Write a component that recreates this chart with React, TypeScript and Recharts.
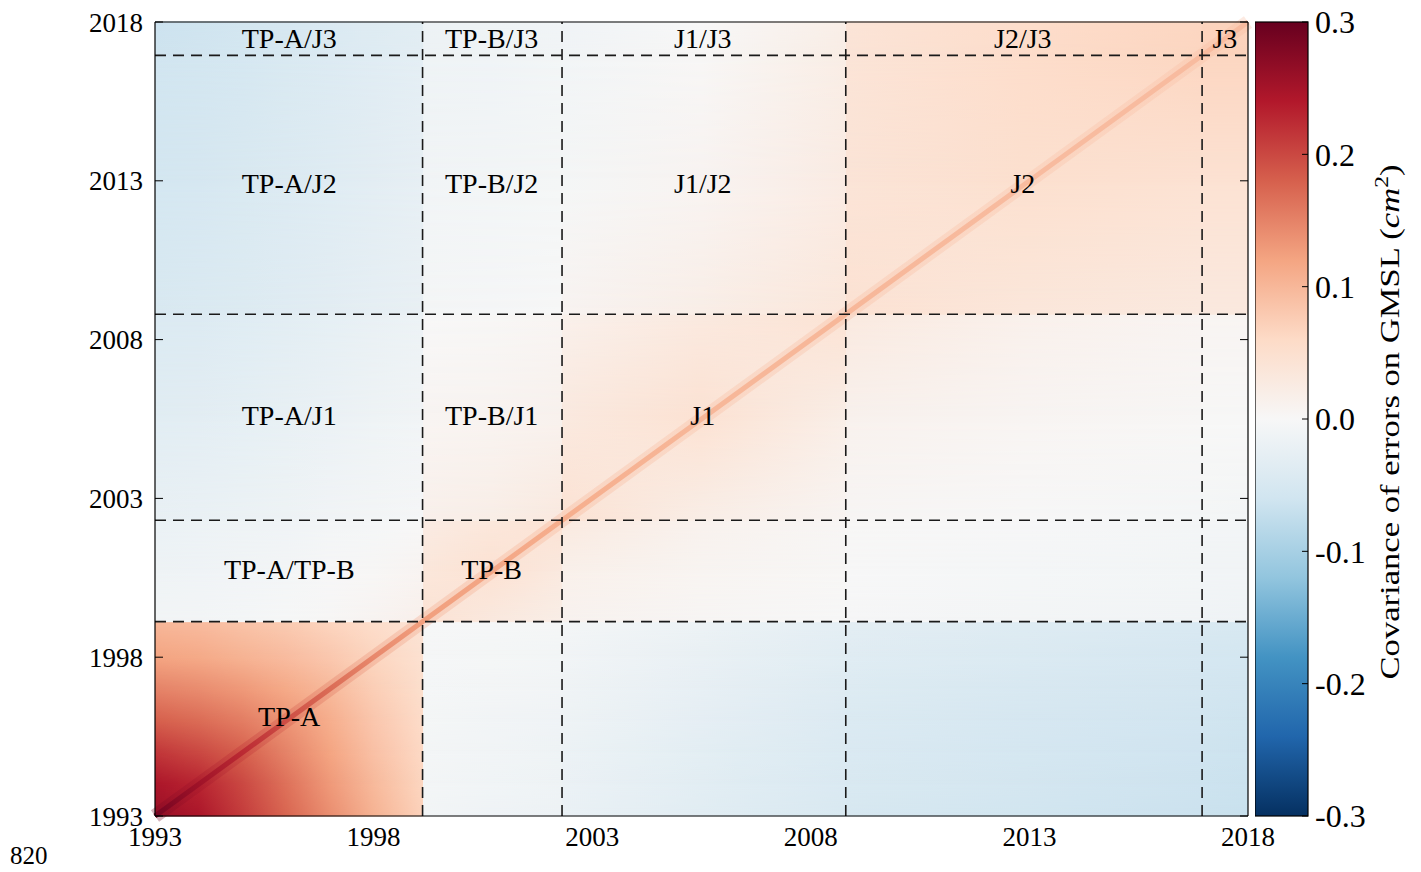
import React from 'react';
import { ScatterChart, Scatter, XAxis, YAxis, ReferenceArea, ReferenceLine } from 'recharts';

// node years of the covariance grid (mission boundaries appear twice so the blocks keep their sharp edges)
const years = [
  1993, 1994, 1995, 1996, 1997, 1998, 1999.12,
  1999.12, 2000.7, 2002.31,
  2002.31, 2005.5, 2008.8,
  2008.8, 2012.9, 2016.95,
  2016.95, 2018,
];

// cov[row][col]: row = year on the vertical axis, col = year on the horizontal axis (cm^2)
const cov = [
  [0.26, 0.245, 0.21, 0.175, 0.14, 0.105, 0.07, -0.008, -0.012, -0.016, -0.02, -0.035, -0.048, -0.05, -0.058, -0.065, -0.066, -0.068],
  [0.245, 0.23, 0.2, 0.165, 0.13, 0.098, 0.066, -0.007, -0.011, -0.015, -0.019, -0.033, -0.046, -0.048, -0.056, -0.063, -0.064, -0.066],
  [0.215, 0.2, 0.18, 0.15, 0.12, 0.09, 0.062, -0.006, -0.01, -0.014, -0.017, -0.031, -0.044, -0.046, -0.054, -0.061, -0.062, -0.064],
  [0.18, 0.17, 0.155, 0.135, 0.11, 0.083, 0.057, -0.005, -0.009, -0.012, -0.015, -0.029, -0.042, -0.044, -0.052, -0.059, -0.06, -0.062],
  [0.15, 0.142, 0.13, 0.115, 0.098, 0.075, 0.052, -0.004, -0.007, -0.01, -0.013, -0.026, -0.039, -0.041, -0.049, -0.056, -0.057, -0.059],
  [0.12, 0.115, 0.105, 0.095, 0.082, 0.066, 0.047, -0.003, -0.005, -0.008, -0.01, -0.022, -0.035, -0.037, -0.045, -0.052, -0.053, -0.055],
  [0.1, 0.095, 0.087, 0.078, 0.067, 0.055, 0.042, -0.001, -0.003, -0.005, -0.007, -0.018, -0.03, -0.032, -0.04, -0.047, -0.048, -0.05],
  [-0.008, -0.006, -0.004, -0.001, 0.003, 0.008, 0.015, 0.045, 0.03, 0.02, 0.01, 0.004, 0.0, -0.002, -0.006, -0.01, -0.011, -0.012],
  [-0.014, -0.012, -0.009, -0.006, -0.002, 0.002, 0.008, 0.035, 0.045, 0.03, 0.016, 0.007, 0.002, 0.0, -0.004, -0.008, -0.009, -0.01],
  [-0.02, -0.018, -0.015, -0.012, -0.008, -0.004, 0.0, 0.025, 0.035, 0.045, 0.03, 0.012, 0.004, 0.002, -0.002, -0.006, -0.007, -0.008],
  [-0.022, -0.02, -0.017, -0.014, -0.01, -0.006, -0.003, 0.015, 0.02, 0.03, 0.045, 0.02, 0.006, 0.004, 0.0, -0.004, -0.005, -0.006],
  [-0.035, -0.032, -0.028, -0.024, -0.019, -0.014, -0.01, 0.006, 0.009, 0.013, 0.03, 0.045, 0.02, 0.012, 0.006, 0.002, 0.001, 0.0],
  [-0.045, -0.042, -0.038, -0.033, -0.028, -0.022, -0.017, 0.0, 0.003, 0.006, 0.015, 0.03, 0.045, 0.03, 0.015, 0.008, 0.007, 0.006],
  [-0.048, -0.045, -0.041, -0.037, -0.032, -0.027, -0.022, -0.005, -0.003, 0.0, 0.008, 0.02, 0.035, 0.045, 0.035, 0.03, 0.03, 0.03],
  [-0.055, -0.052, -0.048, -0.043, -0.038, -0.032, -0.026, -0.01, -0.008, -0.005, -0.005, 0.008, 0.025, 0.04, 0.05, 0.045, 0.045, 0.045],
  [-0.06, -0.057, -0.053, -0.048, -0.042, -0.036, -0.03, -0.015, -0.012, -0.008, -0.01, 0.002, 0.022, 0.04, 0.055, 0.065, 0.065, 0.065],
  [-0.062, -0.059, -0.055, -0.05, -0.044, -0.038, -0.032, -0.016, -0.013, -0.009, -0.01, 0.002, 0.022, 0.04, 0.055, 0.065, 0.07, 0.068],
  [-0.065, -0.062, -0.057, -0.052, -0.046, -0.04, -0.034, -0.018, -0.015, -0.011, -0.012, 0.0, 0.02, 0.04, 0.055, 0.065, 0.068, 0.07],
];

// variance along the diagonal
const diagYears = [1993, 1994, 1995, 1996, 1997, 1998, 1999.12, 2002.31, 2005.5, 2008.8, 2012.9, 2016.95, 2018];
const diagCov = [0.29, 0.255, 0.225, 0.195, 0.17, 0.145, 0.125, 0.11, 0.1, 0.1, 0.095, 0.095, 0.095];

const missionBreaks = [1999.12, 2002.31, 2008.8, 2016.95];
const yearTicks = [1993, 1998, 2003, 2008, 2013, 2018];

const blockNames = [
  'TP-A/J3', 'TP-B/J3', 'J1/J3', 'J2/J3', 'J3',
  'TP-A/J2', 'TP-B/J2', 'J1/J2', 'J2',
  'TP-A/J1', 'TP-B/J1', 'J1',
  'TP-A/TP-B', 'TP-B',
  'TP-A',
];
const blockX = [
  1996.07, 2000.7, 2005.53, 2012.85, 2017.47,
  1996.07, 2000.7, 2005.53, 2012.85,
  1996.07, 2000.7, 2005.53,
  1996.07, 2000.7,
  1996.07,
];
const blockY = [
  2017.47, 2017.47, 2017.47, 2017.47, 2017.47,
  2012.9, 2012.9, 2012.9, 2012.9,
  2005.6, 2005.6, 2005.6,
  2000.75, 2000.75,
  1996.12,
];

const cbarTicks = [-0.3, -0.2, -0.1, 0, 0.1, 0.2, 0.3];
// RdBu_r, from -0.3 to 0.3
const rdbu = ['#053061', '#2166ac', '#4393c3', '#92c5de', '#d1e5f0', '#f7f7f7', '#fddbc7', '#f4a582', '#d6604d', '#b2182b', '#67001f'];

const FONT = "'Liberation Serif', 'Times New Roman', serif";

const hexRgb = (h: string) => [1, 3, 5].map((i) => parseInt(h.slice(i, i + 2), 16));

const cmap = (v: number) => {
  const t = (Math.min(0.3, Math.max(-0.3, v)) + 0.3) / 0.6 * (rdbu.length - 1);
  const i = Math.min(rdbu.length - 2, Math.floor(t));
  const f = t - i;
  const a = hexRgb(rdbu[i]);
  const b = hexRgb(rdbu[i + 1]);
  const c = a.map((ch, k) => Math.round(ch + (b[k] - ch) * f));
  return `rgb(${c[0]},${c[1]},${c[2]})`;
};

const rowStops = (row: number) =>
  years.map((yr, j) => <stop key={j} offset={(yr - 1993) / 25} stopColor={cmap(cov[row][j])} />);

// one horizontal strip of the matrix, blended from the lower row to the upper row
const HeatStrip = (props: any) => {
  const { x, y, width, height, lower } = props;
  const id = `strip${lower}`;
  return (
    <g>
      <defs>
        <linearGradient id={`${id}a`} x1="0" y1="0" x2="1" y2="0">{rowStops(lower)}</linearGradient>
        <linearGradient id={`${id}b`} x1="0" y1="0" x2="1" y2="0">{rowStops(lower + 1)}</linearGradient>
        <linearGradient id={`${id}f`} gradientUnits="userSpaceOnUse" x1={0} y1={y} x2={0} y2={y + height}>
          <stop offset={0} stopColor="#fff" />
          <stop offset={1} stopColor="#000" />
        </linearGradient>
        <mask id={`${id}m`} maskUnits="userSpaceOnUse" x={x} y={y - 1} width={width} height={height + 2}>
          <rect x={x} y={y - 1} width={width} height={height + 2} fill={`url(#${id}f)`} />
        </mask>
      </defs>
      <rect x={x} y={y - 0.5} width={width} height={height + 1} fill={`url(#${id}a)`} />
      <rect x={x} y={y - 0.5} width={width} height={height + 1} fill={`url(#${id}b)`} mask={`url(#${id}m)`} />
    </g>
  );
};

const DiagonalLine = (props: any) => {
  const { x1, y1, x2, y2 } = props;
  const stops = diagYears.map((yr, k) => (
    <stop key={k} offset={(yr - 1993) / 25} stopColor={cmap(diagCov[k])} />
  ));
  return (
    <g>
      <defs>
        <linearGradient id="diagGrad" gradientUnits="userSpaceOnUse" x1={x1} y1={y1} x2={x2} y2={y2}>{stops}</linearGradient>
      </defs>
      <line x1={x1} y1={y1} x2={x2} y2={y2} stroke="url(#diagGrad)" strokeWidth={14} strokeOpacity={0.3} />
      <line x1={x1} y1={y1} x2={x2} y2={y2} stroke="url(#diagGrad)" strokeWidth={5} />
    </g>
  );
};

const ColorBar = (props: any) => {
  const { x, y, width, height } = props;
  const n = rdbu.length - 1;
  return (
    <g>
      <defs>
        <linearGradient id="cbarGrad" x1="0" y1="0" x2="0" y2="1">
          {rdbu.map((_, k) => <stop key={k} offset={k / n} stopColor={rdbu[n - k]} />)}
        </linearGradient>
      </defs>
      <rect x={x} y={y} width={width} height={height} fill="url(#cbarGrad)" stroke="#000" strokeWidth={1.2} />
    </g>
  );
};

const BlockLabel = (props: any) => {
  const { cx, cy, payload } = props;
  return (
    <text x={cx} y={cy} textAnchor="middle" dominantBaseline="central" fontFamily={FONT} fontSize={28} fill="#000">
      {payload.name}
    </text>
  );
};

const NoLabel = () => <g />;

const tickStyle = { fill: '#000', fontSize: 27, fontFamily: FONT };
const spine = { stroke: '#000', strokeWidth: 1.2 };

export default function App() {
  const labelPoints = blockNames.map((name, i) => ({ x: blockX[i], y: blockY[i], name }));
  const cbarPoints = cbarTicks.map((v) => ({ x: 0.5, y: v }));
  const strips: number[] = [];
  for (let r = 0; r < years.length - 1; r++) {
    if (years[r + 1] > years[r]) strips.push(r);
  }

  return (
    <div style={{ position: 'relative', width: 1421, height: 872, background: '#fff', overflow: 'hidden' }}>
      <style>{'body{margin:0}'}</style>
      <div style={{ position: 'absolute', left: 0, top: 0 }}>
        <ScatterChart width={1290} height={872} margin={{ top: 22, right: 42, bottom: 16, left: 95 }}>
          <XAxis xAxisId="b" type="number" dataKey="x" domain={[1993, 2018]} ticks={yearTicks} interval={0}
            allowDataOverflow tickLine={false} axisLine={false} tickSize={11} tickMargin={0} height={40} tick={tickStyle} />
          <XAxis xAxisId="bt" type="number" domain={[1993, 2018]} ticks={yearTicks} interval={0} allowDataOverflow
            orientation="bottom" mirror tick={NoLabel} tickSize={8} tickLine={{ stroke: '#000' }} axisLine={spine} />
          <XAxis xAxisId="t" type="number" domain={[1993, 2018]} ticks={yearTicks} interval={0} allowDataOverflow
            orientation="top" mirror tick={NoLabel} tickSize={8} tickLine={{ stroke: '#000' }} axisLine={spine} />
          <YAxis yAxisId="l" type="number" dataKey="y" domain={[1993, 2018]} ticks={yearTicks} interval={0}
            allowDataOverflow tickLine={false} axisLine={false} tickSize={12} tickMargin={0} width={60} tick={tickStyle} />
          <YAxis yAxisId="lt" type="number" domain={[1993, 2018]} ticks={yearTicks} interval={0} allowDataOverflow
            orientation="left" mirror tick={NoLabel} tickSize={8} tickLine={{ stroke: '#000' }} axisLine={spine} />
          <YAxis yAxisId="r" type="number" domain={[1993, 2018]} ticks={yearTicks} interval={0} allowDataOverflow
            orientation="right" mirror tick={NoLabel} tickSize={8} tickLine={{ stroke: '#000' }} axisLine={spine} />

          {strips.map((r) => (
            <ReferenceArea key={`s${r}`} xAxisId="b" yAxisId="l" x1={1993} x2={2018} y1={years[r]} y2={years[r + 1]}
              ifOverflow="visible" shape={(p: any) => <HeatStrip {...p} lower={r} />} />
          ))}

          <ReferenceLine xAxisId="b" yAxisId="l" segment={[{ x: 1993, y: 1993 }, { x: 2018, y: 2018 }]}
            ifOverflow="visible" shape={DiagonalLine} />

          {missionBreaks.map((b) => (
            <ReferenceLine key={`v${b}`} xAxisId="b" yAxisId="l" x={b} stroke="#1a1a1a" strokeWidth={1.6} strokeDasharray="11 7" />
          ))}
          {missionBreaks.map((b) => (
            <ReferenceLine key={`h${b}`} xAxisId="b" yAxisId="l" y={b} stroke="#1a1a1a" strokeWidth={1.6} strokeDasharray="11 7" />
          ))}

          <Scatter xAxisId="b" yAxisId="l" data={labelPoints} shape={BlockLabel} isAnimationActive={false} />
        </ScatterChart>
      </div>

      <div style={{ position: 'absolute', left: 1255, top: 0 }}>
        <ScatterChart width={166} height={872} margin={{ top: 22, right: 53, bottom: 56, left: 0 }}>
          <XAxis xAxisId="cx" type="number" dataKey="x" domain={[0, 1]} hide />
          <YAxis yAxisId="cy" orientation="right" type="number" dataKey="y" domain={[-0.3, 0.3]} ticks={cbarTicks}
            interval={0} allowDataOverflow tickLine={false} axisLine={false} tickSize={7} tickMargin={0} width={60}
            tickFormatter={(v: number) => v.toFixed(1)} tick={{ fill: '#000', fontSize: 32, fontFamily: FONT }} />
          <ReferenceArea xAxisId="cx" yAxisId="cy" x1={0} x2={1} y1={-0.3} y2={0.3} ifOverflow="visible" shape={ColorBar} />
          <YAxis yAxisId="ct" orientation="right" type="number" domain={[-0.3, 0.3]} ticks={cbarTicks} interval={0}
            allowDataOverflow mirror tick={NoLabel} tickSize={6} axisLine={false} tickLine={{ stroke: '#000' }} />
          <Scatter xAxisId="cx" yAxisId="cy" data={cbarPoints} shape={NoLabel} isAnimationActive={false} />
        </ScatterChart>
      </div>

      <svg style={{ position: 'absolute', left: 1360, top: 0 }} width={61} height={872}>
        <text transform="translate(39,422) rotate(-90)" textAnchor="middle" fontFamily={FONT} fontSize={28} fill="#000"
          textLength={515} lengthAdjust="spacingAndGlyphs">
          Covariance of errors on GMSL (<tspan fontStyle="italic">cm</tspan>
          <tspan dy={-11} fontSize={19}>2</tspan>
          <tspan dy={11}>)</tspan>
        </text>
      </svg>

      <div style={{ position: 'absolute', left: 10, top: 843, fontFamily: FONT, fontSize: 25, lineHeight: 1, color: '#000' }}>
        820
      </div>
    </div>
  );
}
